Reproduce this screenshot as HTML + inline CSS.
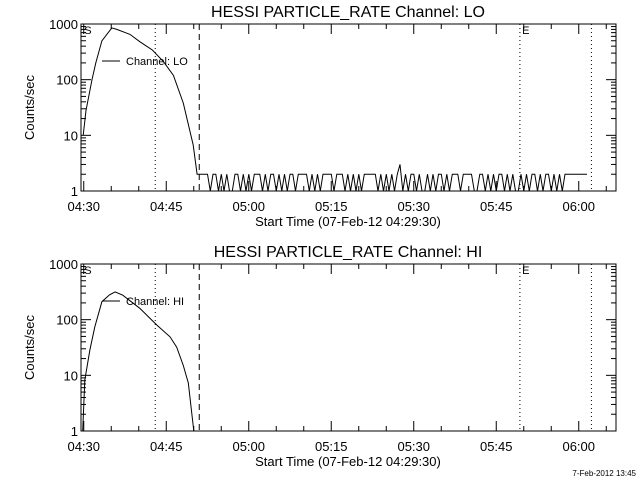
<!DOCTYPE html>
<html><head><meta charset="utf-8"><style>
body{margin:0;background:#fff;width:640px;height:480px;overflow:hidden}
svg text{font-family:"Liberation Sans",sans-serif;fill:#000}
</style></head><body>
<svg id="c" width="640" height="480" viewBox="0 0 640 480" xmlns="http://www.w3.org/2000/svg"></svg>
<script>
// minutes after 04:29:30
const loTimes = [0.4,0.9,2,2.7,3.8,5.6,6.5,8.9,10.7,13,15,16.8,18.6,20.4,21.1,22.5];
const loValues = [10,28,100,200,500,850,800,650,480,340,210,120,38,6.7,2,2];
const loNoise = [2,1,2,2,1,2,1,2,1,1,2,2,1,2,1,2,1,2,2,2,1,2,1,2,2,1,2,1,2,1,2,2,1,2,2,2,2,1,2,1,2,1,2,2,2,2,1,2,2,2,1,2,1,2,1,2,1,2,2,2,2,2,1,2,1,2,1,2,1,2,3,1,2,1,2,2,1,2,1,1,2,1,2,1,2,2,1,2,1,2,2,2,1,2,2,2,2,1,1,2,2,1,2,1,2,1,2,2,1,2,1,2,1,1,2,1,2,1,2,2,1,2,1,2,2,1,2,1,2,1,2,2,2,2,2,2,2,2,2];
const noiseStart = 23, noiseStep = 0.5;
const hiTimes = [0.3,0.7,1.6,2.5,3.8,5.2,6.2,7.6,10.7,13.8,16.2,17.4,18.6,19.5,20.5];
const hiValues = [1,8.2,28,74,210,280,315,275,160,80,49,32,15,7.3,1];
const xTickLabels = ["04:30","04:45","05:00","05:15","05:30","05:45","06:00"];
const xTickMinutes = [0.5,15.5,30.5,45.5,60.5,75.5,90.5];
const yTicks = [1,10,100,1000];
const dottedLines = [13.5,79.8,92.8];
const dashedLine = 21.5;

const svg = document.getElementById('c');
const NS = 'http://www.w3.org/2000/svg';
function el(tag, attrs, parent){const e=document.createElementNS(NS,tag);for(const k in attrs)e.setAttribute(k,attrs[k]);(parent||svg).appendChild(e);return e;}
const X0=81, X1=616, TMAX=(X1-X0)/5.5;
const xs = t => X0 + (t/TMAX)*(X1-X0);

function panel(off, name, times, vals, noise, legend){
  const top=24+off, bot=191+off;
  const ys = v => bot - Math.log10(v)/3*(bot-top);
  const g = el('g',{});
  
  
  const t = el('text',{x:348,y:17+off,'font-size':16,'text-anchor':'middle'},g);
  t.textContent='HESSI PARTICLE_RATE Channel: '+legend;
  
  
  const fr = el('rect',{x:X0,y:top,width:X1-X0,height:bot-top,fill:'none',stroke:'#000','stroke-width':1},g);
  
  
  // y ticks
  for(let d=0; d<3; d++){
    for(let m=1;m<10;m++){
      const v=Math.pow(10,d)*m, y=ys(v), L=(m==1)?10:5;
      el('line',{x1:X0,x2:X0+L,y1:y,y2:y,stroke:'#000'},g);
      el('line',{x1:X1,x2:X1-L,y1:y,y2:y,stroke:'#000'},g);
    }
  }
  yTicks.forEach(v=>{
    const tx=el('text',{x:X0-3,y:ys(v)+5,'font-size':13,'text-anchor':'end'},g);
    tx.textContent=v;
    
    
  });
  // x ticks
  for(let m=0.5;m<TMAX;m+=5){
    const x=xs(m), L=((m-0.5)%15==0)?10:5;
    el('line',{x1:x,x2:x,y1:bot,y2:bot-L,stroke:'#000'},g);
    el('line',{x1:x,x2:x,y1:top,y2:top+L,stroke:'#000'},g);
  }
  xTickLabels.forEach((s,i)=>{
    const tx=el('text',{x:xs(xTickMinutes[i]),y:bot+20,'font-size':13,'text-anchor':'middle'},g);
    tx.textContent=s;
    
    
  });
  const xl=el('text',{x:348,y:bot+35,'font-size':13,'text-anchor':'middle'},g);
  xl.textContent='Start Time (07-Feb-12 04:29:30)';
  
  
  const yl=el('text',{x:0,y:0,'font-size':13,'text-anchor':'middle',transform:`translate(34,${(top+bot)/2}) rotate(-90)`},g);
  yl.textContent='Counts/sec';
  
  
  dottedLines.forEach(m=>{
    const l=el('line',{x1:xs(m),x2:xs(m),y1:top,y2:bot,stroke:'#000','stroke-dasharray':'1,3'},g);
    
    
  });
  const dl=el('line',{x1:xs(dashedLine),x2:xs(dashedLine),y1:top,y2:bot,stroke:'#000','stroke-dasharray':'6,4'},g);
  
  
  const sL=el('text',{x:xs(0.6),y:top+10,'font-size':11},g); sL.textContent='S';
  
  
  const eL=el('text',{x:xs(80.2),y:top+10,'font-size':11},g); eL.textContent='E';
  
  
  let pts=times.map((tt,i)=>xs(tt).toFixed(1)+','+ys(vals[i]).toFixed(1));
  if(noise) noise.forEach((v,i)=>pts.push(xs(noiseStart+i*noiseStep).toFixed(1)+','+ys(v).toFixed(1)));
  const p=el('polyline',{points:pts.join(' '),fill:'none',stroke:'#000','stroke-width':1},g);
  
  
  el('line',{x1:102,x2:120,y1:off+61,y2:off+61,stroke:'#000'},g);
  const lg=el('text',{x:126,y:off+65,'font-size':11},g);
  lg.textContent='Channel: '+legend;
  
  
}
panel(0,'lo',loTimes,loValues,loNoise,'LO');
panel(240,'hi',hiTimes,hiValues,null,'HI');
const ft=el('text',{x:636,y:476,'font-size':8,'text-anchor':'end'});
ft.textContent='7-Feb-2012 13:45';


</script>
</body></html>
